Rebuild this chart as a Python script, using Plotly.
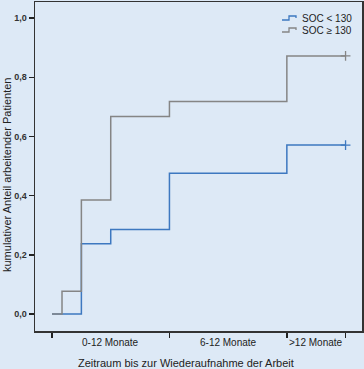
import plotly.graph_objects as go

# Data
blue_name = "SOC < 130"
gray_name = "SOC \u2265 130"
blue_x = [0, 0.17, 0.5, 1.0, 2.0, 4.0, 5.0]
blue_y = [0.0, 0.0, 0.238, 0.286, 0.476, 0.571, 0.571]
gray_x = [0, 0.17, 0.5, 1.0, 2.0, 4.0, 5.0]
gray_y = [0.0, 0.077, 0.385, 0.667, 0.718, 0.872, 0.872]
tick_edges = [0, 2, 4, 5]
period_labels = ["0-12 Monate", "6-12 Monate", ">12 Monate"]
y_ticks = [0.0, 0.2, 0.4, 0.6, 0.8, 1.0]
x_title = "Zeitraum bis zur Wiederaufnahme der Arbeit"
y_title = "kumulativer Anteil arbeitender Patienten"

BLUE = "#3d78c0"
GRAY = "#858585"
BG = "#dde9f6"
TXT = "#222"
FONT = "Liberation Sans"
W, H = 364, 369
L, R, T, B = 35, 2, 2, 38

fig = go.Figure()
for xs, ys, col in [(blue_x, blue_y, BLUE), (gray_x, gray_y, GRAY)]:
    fig.add_trace(go.Scatter(x=xs, y=ys, mode="lines", line=dict(color=col, width=1.5, shape="hv"),
                             showlegend=False, hoverinfo="skip", cliponaxis=False))
    fig.add_trace(go.Scatter(x=[xs[-1]], y=[ys[-1]], mode="markers",
                             marker=dict(symbol="cross-thin", size=7, line=dict(color=col, width=1.3)),
                             showlegend=False, hoverinfo="skip", cliponaxis=False))

pw, ph = W - L - R, H - T - B
def px(x):
    return (x - L) / pw
def py(y):
    return (H - B - y) / ph

# period labels centred between ticks
for i, lab in enumerate(period_labels):
    mid = (tick_edges[i] + tick_edges[i + 1]) / 2
    fig.add_annotation(x=mid, y=py(342), xref="x", yref="paper", yanchor="middle", text=lab,
                       showarrow=False, font=dict(family=FONT, size=10, color=TXT))

# axis titles
fig.add_annotation(x=px(186), y=py(363), xref="paper", yref="paper", xanchor="center", yanchor="middle",
                   text=x_title, showarrow=False, font=dict(family=FONT, size=11, color=TXT))
fig.add_annotation(x=px(7), y=py(175), xref="paper", yref="paper", xanchor="center", yanchor="middle",
                   text=y_title, textangle=-90, showarrow=False, font=dict(family=FONT, size=11, color=TXT))

# custom step-style legend
for name, col, yc in [(blue_name, BLUE, 18), (gray_name, GRAY, 30)]:
    path = "M {} {} L {} {} L {} {} L {} {} L {} {}".format(
        px(282), py(yc + 2), px(289), py(yc + 2), px(289), py(yc - 2), px(296), py(yc - 2), px(296), py(yc))
    fig.add_shape(type="path", path=path, xref="paper", yref="paper", line=dict(color=col, width=1.3))
    fig.add_annotation(x=px(300), y=py(yc), xref="paper", yref="paper", xanchor="left", yanchor="middle",
                       text=name, showarrow=False, font=dict(family=FONT, size=10, color=TXT))

fig.update_layout(
    width=W, height=H, margin=dict(l=L, r=R, t=T, b=B, autoexpand=False),
    paper_bgcolor=BG, plot_bgcolor=BG, separators=",.",
    showlegend=False,
)
fig.update_xaxes(range=[-0.29, 5.28], tickvals=tick_edges, ticktext=["" for _ in tick_edges],
                 ticks="outside", ticklen=5, tickwidth=1.3, tickcolor=TXT, automargin=False,
                 showline=True, linecolor="#333", linewidth=1.5, mirror=True,
                 showgrid=False, zeroline=False)
fig.update_yaxes(range=[-0.057, 1.054], tickvals=y_ticks, tickformat=".1f",
                 ticks="outside", ticklen=5, tickwidth=1.3, tickcolor=TXT, automargin=False,
                 tickfont=dict(family=FONT, size=9, color="#333", weight="bold"),
                 showline=True, linecolor="#333", linewidth=1.5, mirror=True,
                 showgrid=False, zeroline=False)

fig.write_html("out.html", config={"displayModeBar": False, "staticPlot": True},
               post_script="document.body.style.margin='0';document.body.style.overflow='hidden';")
